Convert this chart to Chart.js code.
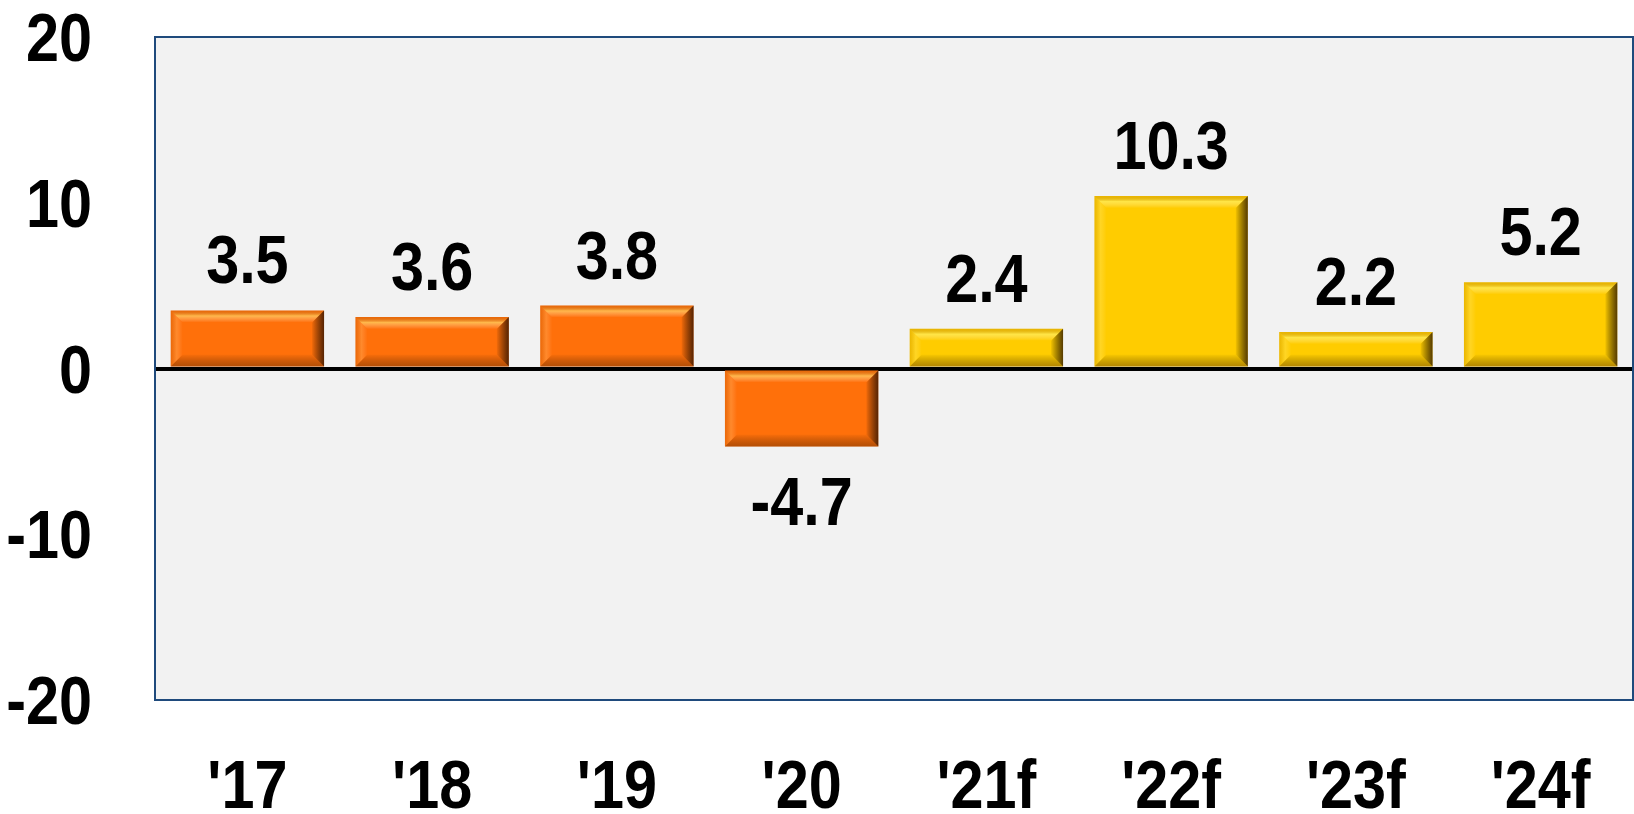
<!DOCTYPE html>
<html lang="en">
<head>
    <meta charset="UTF-8">
    <title>Growth chart</title>
    <script src="https://cdn.jsdelivr.net/npm/chart.js"></script>
    <style>
        body { margin: 0; background: #fff; }
    </style>
</head>
<body>
    <canvas id="chart" width="1634" height="814"></canvas>
    <script>
        // values
        const years = ["'17", "'18", "'19", "'20", "'21f", "'22f", "'23f", "'24f"];
        const barValues = [3.5, 3.1, 3.8, -4.7, 2.4, 10.4, 2.2, 5.2];
        const valueLabels = ['3.5', '3.6', '3.8', '-4.7', '2.4', '10.3', '2.2', '5.2'];
        const yTicks = [-20, -10, 0, 10, 20];

        const FONT = "bold 69px 'Liberation Sans', Arial, sans-serif";
        const NARROW = 0.86;     // squeeze to look like Arial Narrow
        const CAP = 24;          // half cap height
        const ORANGE = '#FF700A';
        const YELLOW = '#FFCC00';
        const colors = years.map(y => y.endsWith('f') ? YELLOW : ORANGE);

        function narrowText(ctx, text, x, y, align) {
            ctx.save();
            ctx.font = FONT;
            ctx.fillStyle = '#000';
            ctx.textBaseline = 'alphabetic';
            ctx.textAlign = align;
            ctx.translate(x, y);
            ctx.scale(NARROW, 1);
            ctx.fillText(text, 0, 0);
            ctx.restore();
        }

        // plot background + frame
        const frame = {
            id: 'frame',
            beforeDraw(chart) {
                const { ctx, chartArea: a } = chart;
                ctx.save();
                ctx.fillStyle = '#F2F2F2';
                ctx.fillRect(a.left, a.top, a.right - a.left, a.bottom - a.top);
                ctx.restore();
            },
            afterDraw(chart) {
                const { ctx, chartArea: a } = chart;
                ctx.save();
                ctx.strokeStyle = '#1F4A7C';
                ctx.lineWidth = 2;
                ctx.strokeRect(a.left, a.top, a.right - a.left, a.bottom - a.top);
                ctx.restore();
                // axis labels
                const ys = chart.scales.y, xs = chart.scales.x;
                ys.ticks.forEach(t => narrowText(ctx, String(t.value), 92, ys.getPixelForValue(t.value) + CAP, 'right'));
                years.forEach((lab, i) => narrowText(ctx, lab, xs.getPixelForTick(i), 808, 'center'));
            }
        };

        // bevelled look on each bar + value labels
        const bevel = {
            id: 'bevel',
            afterDatasetsDraw(chart) {
                const ctx = chart.ctx;
                const meta = chart.getDatasetMeta(0);
                meta.data.forEach((bar, i) => {
                    const l = bar.x - bar.width / 2, r = bar.x + bar.width / 2;
                    const t = Math.min(bar.y, bar.base), b = Math.max(bar.y, bar.base);
                    const bw = Math.min(12, (b - t) / 2);
                    ctx.save();
                    // top
                    let g = ctx.createLinearGradient(0, t, 0, t + bw);
                    g.addColorStop(0, 'rgba(120,60,0,0.15)');
                    g.addColorStop(0.45, 'rgba(255,255,140,0.5)');
                    g.addColorStop(1, 'rgba(255,255,255,0.0)');
                    ctx.fillStyle = g;
                    ctx.beginPath();
                    ctx.moveTo(l, t); ctx.lineTo(r, t); ctx.lineTo(r - bw, t + bw); ctx.lineTo(l + bw, t + bw); ctx.closePath();
                    ctx.fill();
                    // left
                    g = ctx.createLinearGradient(l, 0, l + bw, 0);
                    g.addColorStop(0, 'rgba(120,60,0,0.15)');
                    g.addColorStop(0.5, 'rgba(255,255,200,0.18)');
                    g.addColorStop(1, 'rgba(255,255,255,0.0)');
                    ctx.fillStyle = g;
                    ctx.beginPath();
                    ctx.moveTo(l, t); ctx.lineTo(l + bw, t + bw); ctx.lineTo(l + bw, b - bw); ctx.lineTo(l, b); ctx.closePath();
                    ctx.fill();
                    // bottom
                    g = ctx.createLinearGradient(0, b - bw, 0, b);
                    g.addColorStop(0, 'rgba(0,0,0,0.02)');
                    g.addColorStop(1, 'rgba(70,30,0,0.4)');
                    ctx.fillStyle = g;
                    ctx.beginPath();
                    ctx.moveTo(l, b); ctx.lineTo(l + bw, b - bw); ctx.lineTo(r - bw, b - bw); ctx.lineTo(r, b); ctx.closePath();
                    ctx.fill();
                    // right
                    g = ctx.createLinearGradient(r - bw, 0, r, 0);
                    g.addColorStop(0, 'rgba(0,0,0,0.05)');
                    g.addColorStop(1, 'rgba(30,10,0,0.75)');
                    ctx.fillStyle = g;
                    ctx.beginPath();
                    ctx.moveTo(r, t); ctx.lineTo(r, b); ctx.lineTo(r - bw, b - bw); ctx.lineTo(r - bw, t + bw); ctx.closePath();
                    ctx.fill();
                    ctx.restore();

                    // value label
                    const neg = barValues[i] < 0;
                    narrowText(ctx, valueLabels[i], bar.x, neg ? b + 79 : t - 27, 'center');
                });
            }
        };

        const ctx = document.getElementById('chart').getContext('2d');
        new Chart(ctx, {
            type: 'bar',
            data: {
                labels: years,
                datasets: [{
                    data: barValues,
                    backgroundColor: colors,
                    borderWidth: 0,
                    categoryPercentage: 0.83,
                    barPercentage: 1.0
                }]
            },
            options: {
                responsive: false,
                animation: false,
                devicePixelRatio: 1,
                layout: { padding: { top: 37, right: 1, left: 0, bottom: 0 } },
                plugins: { legend: { display: false }, tooltip: { enabled: false } },
                scales: {
                    x: {
                        grid: { display: false },
                        border: { display: false },
                        ticks: { display: false },
                        afterFit(scale) {
                            scale.height = 114;
                            scale.paddingLeft = 0;
                            scale.paddingRight = 0;
                        }
                    },
                    y: {
                        min: -20,
                        max: 20,
                        z: 1,
                        afterBuildTicks(scale) { scale.ticks = yTicks.map(v => ({ value: v })); },
                        border: { display: false },
                        grid: {
                            drawTicks: false,
                            color: c => c.tick && c.tick.value === 0 ? '#000' : 'rgba(0,0,0,0)',
                            lineWidth: c => c.tick && c.tick.value === 0 ? 4 : 0
                        },
                        ticks: { display: false },
                        afterFit(scale) {
                            scale.width = 155;
                            scale.paddingTop = 0;
                            scale.paddingBottom = 0;
                        }
                    }
                }
            },
            plugins: [frame, bevel]
        });
    </script>
</body>
</html>
